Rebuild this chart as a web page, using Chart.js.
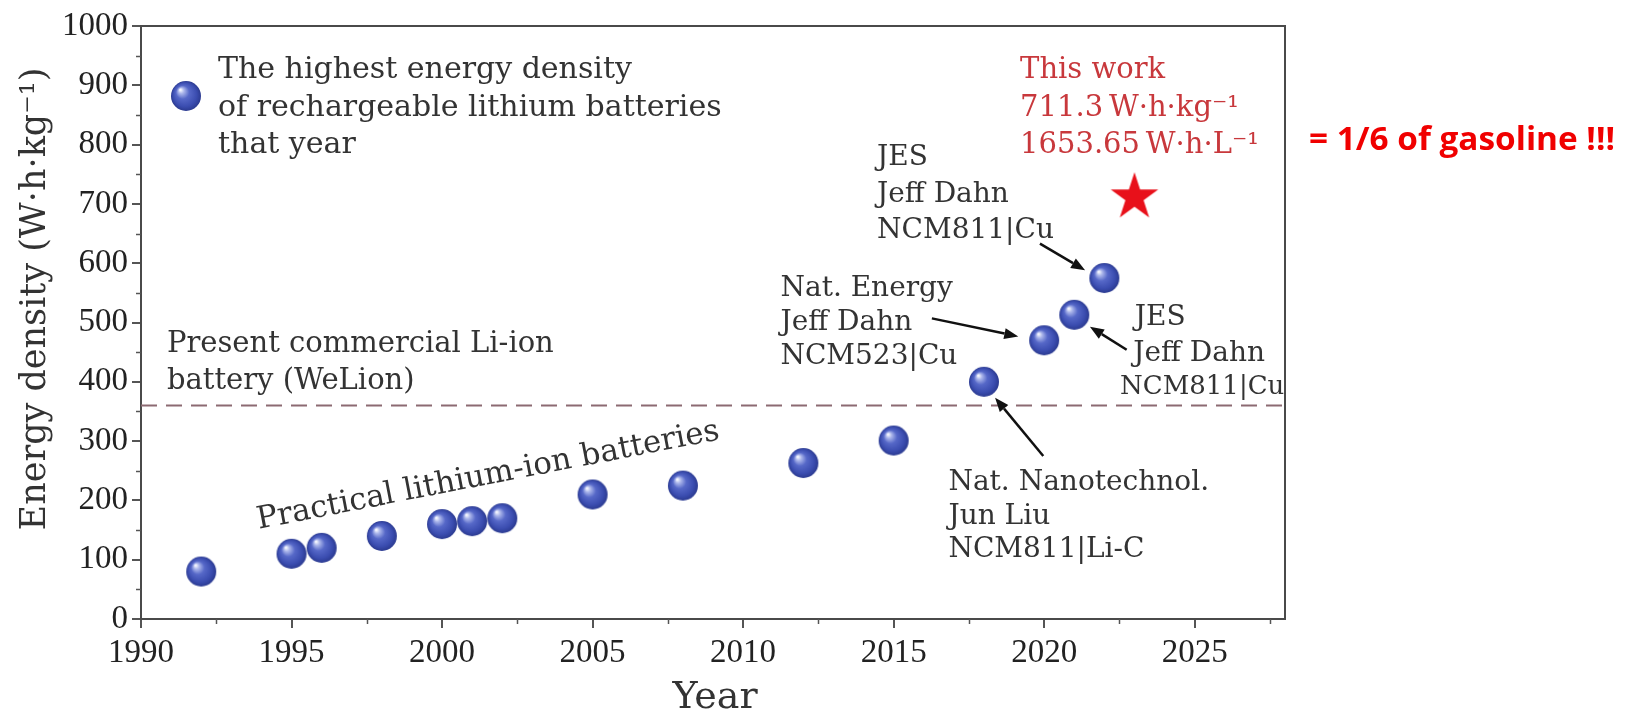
<!DOCTYPE html>
<html>
<head>
<meta charset="utf-8">
<title>Energy density of rechargeable lithium batteries</title>
<script src="https://cdn.jsdelivr.net/npm/chart.js@4.4.1/dist/chart.umd.min.js"></script>
<style>
  html, body { margin: 0; padding: 0; background: #ffffff; }
  #wrap { width: 1636px; height: 715px; }
</style>
</head>
<body>
<div id="wrap"><canvas id="chart" width="1636" height="715"></canvas></div>
<script>
// ---- data -------------------------------------------------------------
const YEARS = [1992, 1995, 1996, 1998, 2000, 2001, 2002, 2005, 2008, 2012, 2015, 2018, 2020, 2021, 2022];
const ENERGY_DENSITY = [80, 110, 120, 140, 160, 165, 170, 210, 225, 263, 301, 400, 470, 513, 575];
const THIS_WORK_YEAR = [2023];
const THIS_WORK_VALUE = [711.3];
const THIS_WORK_VOLUMETRIC = [1653.65];
const COMMERCIAL_LEVEL = 360;
const X_TICKS = [1990, 1995, 2000, 2005, 2010, 2015, 2020, 2025];
const Y_TICKS = [0, 100, 200, 300, 400, 500, 600, 700, 800, 900, 1000];
const X_MINOR = [1992.5, 1997.5, 2002.5, 2007.5, 2012.5, 2017.5, 2022.5, 2027.5];
const Y_MINOR = [50, 150, 250, 350, 450, 550, 650, 750, 850, 950];
const X_MIN = 1990, X_MAX = 2028, Y_MIN = 0, Y_MAX = 1000;

// ---- styling ----------------------------------------------------------
const SERIF = '"DejaVu Serif", serif';
const TICK_FONT = '"Liberation Serif", serif';
const INK = '#333333';
const AXIS = '#4a4a4a';

// shaded blue sphere used as point marker
function makeSphere(r) {
  const s = Math.ceil(2 * r + 2);
  const c = document.createElement('canvas');
  c.width = s; c.height = s;
  const g = c.getContext('2d');
  const cx = s / 2, cy = s / 2;
  const grad = g.createRadialGradient(cx - r * 0.38, cy - r * 0.42, r * 0.04, cx, cy, r);
  grad.addColorStop(0.00, '#f6f8ff');
  grad.addColorStop(0.16, '#aab5ea');
  grad.addColorStop(0.42, '#5668c8');
  grad.addColorStop(0.78, '#3b4db0');
  grad.addColorStop(1.00, '#2b3a90');
  g.fillStyle = grad;
  g.beginPath();
  g.arc(cx, cy, r, 0, Math.PI * 2);
  g.fill();
  return c;
}

// filled five-point star
function makeStar(R, color) {
  const s = Math.ceil(2 * R + 2);
  const c = document.createElement('canvas');
  c.width = s; c.height = s;
  const g = c.getContext('2d');
  const cx = s / 2, cy = s / 2, ri = R * 0.382;
  g.beginPath();
  for (let i = 0; i < 10; i++) {
    const rad = i % 2 === 0 ? R : ri;
    const a = -Math.PI / 2 + i * Math.PI / 5;
    const x = cx + rad * Math.cos(a), y = cy + rad * Math.sin(a);
    if (i === 0) g.moveTo(x, y); else g.lineTo(x, y);
  }
  g.closePath();
  g.fillStyle = color;
  g.fill();
  return c;
}

const sphere = makeSphere(15);
const star = makeStar(25, '#e8101a');

// ---- annotations (anchored in data units) ------------------------------
const NOTE_BLOCKS = [
  { lines: ['This work',
            THIS_WORK_VALUE[0] + '\u2009W\u00B7h\u00B7kg\u207B\u00B9',
            THIS_WORK_VOLUMETRIC[0] + '\u2009W\u00B7h\u00B7L\u207B\u00B9'],
    x: 2019.2, y: 912.3, gap: 37.5, color: '#c8383c', size: 29 },
  { lines: ['JES', 'Jeff Dahn', 'NCM811|Cu'], x: 2014.45, y: 764.8, gap: 36.5 },
  { lines: ['Nat. Energy', 'Jeff Dahn', 'NCM523|Cu'], x: 2011.24, y: 545.3, gap: 34 },
  { lines: ['JES'], x: 2023.01, y: 496.1 },
  { lines: ['Jeff Dahn'], x: 2022.96, y: 434.6 },
  { lines: ['NCM811|Cu'], x: 2022.52, y: 378.8, size: 26 },
  { lines: ['Nat. Nanotechnol.', 'Jun Liu', 'NCM811|Li-C'], x: 2016.82, y: 216.7, gap: 33.5 },
  { lines: ['Present commercial Li-ion', 'battery (WeLion)'], x: 1990.86, y: 449.7, gap: 37, size: 29 }
];

const ARROWS = [
  { from: [2019.86, 633], to: [2021.36, 588] },
  { from: [2016.27, 507], to: [2019.14, 476.5] },
  { from: [2022.74, 454], to: [2021.52, 493] },
  { from: [2019.97, 275], to: [2018.37, 373] }
];

const TREND_LABEL = { text: 'Practical lithium-ion batteries', x: 1993.91, y: 152, angle: -11 };

function drawArrow(ctx, x0, y0, x1, y1) {
  const a = Math.atan2(y1 - y0, x1 - x0);
  const len = 14, half = 5.5;
  const bx = x1 - len * Math.cos(a), by = y1 - len * Math.sin(a);
  ctx.beginPath();
  ctx.moveTo(x0, y0);
  ctx.lineTo(bx, by);
  ctx.stroke();
  ctx.beginPath();
  ctx.moveTo(x1, y1);
  ctx.lineTo(bx + half * Math.sin(a), by - half * Math.cos(a));
  ctx.lineTo(bx - half * Math.sin(a), by + half * Math.cos(a));
  ctx.closePath();
  ctx.fill();
}

const decorations = {
  id: 'decorations',
  afterDraw(chart) {
    const { ctx, chartArea: ca, scales: { x, y } } = chart;
    ctx.save();

    // minor ticks
    ctx.lineWidth = 1.5;
    ctx.strokeStyle = '#555';
    Y_MINOR.forEach(v => {
      const py = Math.round(y.getPixelForValue(v)) + 0.5;
      ctx.beginPath(); ctx.moveTo(ca.left - 5, py); ctx.lineTo(ca.left, py); ctx.stroke();
    });
    X_MINOR.forEach(v => {
      const px = Math.round(x.getPixelForValue(v)) + 0.5;
      ctx.beginPath(); ctx.moveTo(px, ca.bottom); ctx.lineTo(px, ca.bottom + 5); ctx.stroke();
    });

    // axis titles
    ctx.fillStyle = INK;
    ctx.font = '38px ' + SERIF;
    ctx.textAlign = 'center';
    ctx.textBaseline = 'middle';
    ctx.fillText('Year', (ca.left + ca.right) / 2 + 2, 698);
    ctx.save();
    ctx.translate(36, 299);
    ctx.rotate(-Math.PI / 2);
    ctx.font = '35px ' + SERIF;
    ctx.fillText('Energy density (W\u00B7h\u00B7kg\u207B\u00B9)', 0, 0);
    ctx.restore();

    // legend
    ctx.drawImage(sphere, ca.left + 45 - sphere.width / 2, ca.top + 70 - sphere.height / 2);
    ctx.textAlign = 'left';
    ctx.textBaseline = 'alphabetic';
    ctx.font = '30px ' + SERIF;
    ['The highest energy density', 'of rechargeable lithium batteries', 'that year']
      .forEach((t, i) => ctx.fillText(t, ca.left + 77, ca.top + 52 + i * 37.5));

    // text blocks, kept inside the plot frame
    ctx.save();
    ctx.beginPath();
    ctx.rect(ca.left, ca.top, ca.right - ca.left - 1, ca.bottom - ca.top);
    ctx.clip();
    NOTE_BLOCKS.forEach(b => {
      ctx.font = (b.size || 28) + 'px ' + SERIF;
      ctx.fillStyle = b.color || INK;
      const px = x.getPixelForValue(b.x), py = y.getPixelForValue(b.y);
      b.lines.forEach((t, i) => ctx.fillText(t, px, py + i * (b.gap || 0)));
    });

    // trend label
    ctx.fillStyle = INK;
    ctx.save();
    ctx.translate(x.getPixelForValue(TREND_LABEL.x), y.getPixelForValue(TREND_LABEL.y));
    ctx.rotate(TREND_LABEL.angle * Math.PI / 180);
    ctx.font = '31px ' + SERIF;
    ctx.fillText(TREND_LABEL.text, 0, 0);
    ctx.restore();
    ctx.restore();

    // frame (top and right sides)
    ctx.strokeStyle = AXIS;
    ctx.lineWidth = 2;
    ctx.beginPath();
    ctx.moveTo(ca.left, ca.top);
    ctx.lineTo(ca.right, ca.top);
    ctx.lineTo(ca.right, ca.bottom);
    ctx.stroke();

    // arrows
    ctx.strokeStyle = '#111';
    ctx.fillStyle = '#111';
    ctx.lineWidth = 2.5;
    ARROWS.forEach(a => drawArrow(ctx,
      x.getPixelForValue(a.from[0]), y.getPixelForValue(a.from[1]),
      x.getPixelForValue(a.to[0]), y.getPixelForValue(a.to[1])));

    // side remark, squeezed to its box width
    ctx.fillStyle = '#f00000';
    ctx.font = 'bold 32px "Open Sans", sans-serif';
    const remark = '= 1/6 of gasoline !!!';
    const w = ctx.measureText(remark).width;
    const target = 306;
    ctx.save();
    ctx.translate(ca.right + 24, 150);
    ctx.scale(target / w, 1);
    ctx.fillText(remark, 0, 0);
    ctx.restore();

    ctx.restore();
  }
};

new Chart(document.getElementById('chart'), {
  type: 'scatter',
  data: {
    datasets: [
      {
        label: 'Present commercial Li-ion battery',
        type: 'line',
        data: [{ x: X_MIN, y: COMMERCIAL_LEVEL }, { x: X_MAX, y: COMMERCIAL_LEVEL }],
        borderColor: '#8c6a72',
        borderWidth: 2,
        borderDash: [16, 9],
        pointRadius: 0,
        fill: false,
        order: 3
      },
      {
        label: 'Highest energy density of that year',
        data: YEARS.map((yr, i) => ({ x: yr, y: ENERGY_DENSITY[i] })),
        pointStyle: sphere,
        pointRadius: 15,
        order: 1
      },
      {
        label: 'This work',
        data: THIS_WORK_YEAR.map((yr, i) => ({ x: yr, y: THIS_WORK_VALUE[i] })),
        pointStyle: star,
        pointRadius: 25,
        order: 0
      }
    ]
  },
  options: {
    responsive: false,
    animation: false,
    devicePixelRatio: 1,
    layout: { padding: { top: 22, right: 351, bottom: 0, left: 0 } },
    plugins: { legend: { display: false }, tooltip: { enabled: false } },
    scales: {
      x: {
        type: 'linear',
        min: X_MIN,
        max: X_MAX,
        afterBuildTicks: s => { s.ticks = X_TICKS.map(v => ({ value: v })); },
        afterFit: s => { s.height = 96; },
        ticks: {
          font: { family: TICK_FONT, size: 33 },
          color: '#222',
          padding: 6,
          maxRotation: 0,
          autoSkip: false,
          callback: v => String(v)
        },
        grid: { display: true, drawOnChartArea: false, drawTicks: true, tickLength: 9, color: '#555', lineWidth: 2 },
        border: { display: true, color: AXIS, width: 2 }
      },
      y: {
        min: Y_MIN,
        max: Y_MAX,
        afterBuildTicks: s => { s.ticks = Y_TICKS.map(v => ({ value: v })); },
        afterFit: s => { s.width = 141; },
        ticks: {
          font: { family: TICK_FONT, size: 33 },
          color: '#222',
          padding: 4,
          autoSkip: false,
          callback: v => String(v)
        },
        grid: { display: true, drawOnChartArea: false, drawTicks: true, tickLength: 9, color: '#555', lineWidth: 2 },
        border: { display: true, color: AXIS, width: 2 }
      }
    }
  },
  plugins: [decorations]
});
</script>
</body>
</html>
